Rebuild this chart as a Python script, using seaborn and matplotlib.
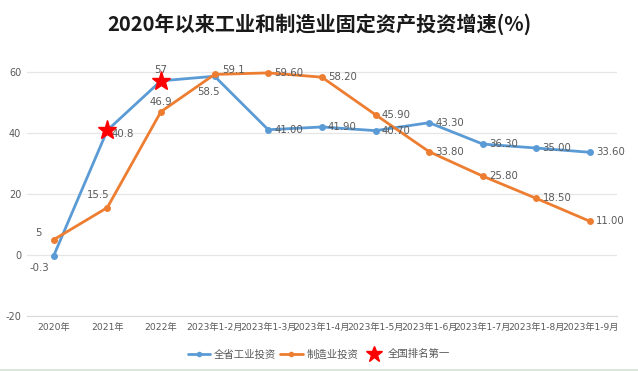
import matplotlib
matplotlib.use("Agg")
import matplotlib.pyplot as plt
from matplotlib.lines import Line2D
import seaborn as sns
import numpy as np
import pandas as pd

categories = ["2020年", "2021年", "2022年", "2023年1-2月", "2023年1-3月", "2023年1-4月",
              "2023年1-5月", "2023年1-6月", "2023年1-7月", "2023年1-8月", "2023年1-9月"]
industry = [-0.3, 40.8, 57, 58.5, 41.0, 41.9, 40.7, 43.3, 36.3, 35.0, 33.6]
manufacturing = [5, 15.5, 46.9, 59.1, 59.6, 58.2, 45.9, 33.8, 25.8, 18.5, 11.0]
industry_labels = ["-0.3", "40.8", "57", "58.5", "41.00", "41.90", "40.70", "43.30", "36.30", "35.00", "33.60"]
manufacturing_labels = ["5", "15.5", "46.9", "59.1", "59.60", "58.20", "45.90", "33.80", "25.80", "18.50", "11.00"]
star_idx = [1, 2]

sns.set_style("white")
plt.rcParams["font.family"] = ["DejaVu Sans", "Noto Sans CJK SC"]
plt.rcParams["axes.unicode_minus"] = False

blue = "#5B9BD5"
orange = "#ED7D31"
gray = "#595959"

df = pd.DataFrame({"x": np.arange(len(categories)), "industry": industry, "manufacturing": manufacturing})

fig = plt.figure(figsize=(6.38, 3.71), dpi=100)
ax = fig.add_axes([0.042, 0.148, 0.925, 0.70])

sns.lineplot(data=df, x="x", y="industry", color=blue, lw=2, marker="o", markersize=5,
             markeredgewidth=0, ax=ax, label="全省工业投资")
sns.lineplot(data=df, x="x", y="manufacturing", color=orange, lw=2, marker="o", markersize=5,
             markeredgewidth=0, ax=ax, label="制造业投资")
ax.plot(df["x"][star_idx], np.array(industry)[star_idx], ls="none", marker="*",
        color="red", markersize=14, zorder=5)

# data labels: offsets in pixels
ind_off = [(-4, -12, "right"), (4, -4, "left"), (0, 11, "center"), (-6, -16, "center")] + \
          [(6, 0, "left")] * 7
man_off = [(-12, 7, "right"), (-9, 13, "center"), (0, 10, "center"), (8, 4, "left")] + \
          [(6, 0, "left")] * 7
for i in range(len(categories)):
    dx, dy, ha = ind_off[i]
    ax.annotate(industry_labels[i], (i, industry[i]), xytext=(dx, dy), textcoords="offset pixels",
                ha=ha, va="center", fontsize=7.3, color=gray)
    dx, dy, ha = man_off[i]
    ax.annotate(manufacturing_labels[i], (i, manufacturing[i]), xytext=(dx, dy), textcoords="offset pixels",
                ha=ha, va="center", fontsize=7.3, color=gray)

ax.set_xlim(-0.5, len(categories) - 0.5)
ax.set_ylim(-20, 65)
ax.set_yticks([-20, 0, 20, 40, 60])
ax.set_xticks(df["x"])
ax.set_xticklabels(categories)
ax.set_xticks(np.arange(-0.5, len(categories), 1), minor=True)
ax.tick_params(axis="x", which="major", length=0, labelsize=6.6, labelcolor=gray, pad=5)
ax.tick_params(axis="x", which="minor", length=4, color="#D9D9D9", width=0.8)
ax.tick_params(axis="y", length=0, labelsize=7, labelcolor=gray, pad=4)
ax.set_xlabel("")
ax.set_ylabel("")
ax.grid(axis="y", color="#E6E6E6", lw=0.9)
for s in ["top", "right", "left"]:
    ax.spines[s].set_visible(False)
ax.spines["bottom"].set_color("#D9D9D9")

ax.get_legend().remove()
handles = [
    Line2D([], [], color=blue, lw=2, marker="o", markersize=4, markeredgewidth=0),
    Line2D([], [], color=orange, lw=2, marker="o", markersize=4, markeredgewidth=0),
    Line2D([], [], ls="none", marker="*", color="red", markersize=12),
]
fig.legend(handles, ["全省工业投资", "制造业投资", "全国排名第一"], loc="center",
           bbox_to_anchor=(0.5, 0.045), ncol=3, frameon=False,
           labelcolor=gray, handlelength=2.2, handletextpad=0.3, columnspacing=0.4,
           prop={"family": ["Noto Sans CJK SC"], "size": 7.5})

fig.text(0.5, 0.935, "2020年以来工业和制造业固定资产投资增速(%)", ha="center", va="center",
         fontsize=14.5, fontweight="bold", family=["Noto Sans CJK SC", "DejaVu Sans"], color="#1a1a1a")

# thin light-green frame line along the bottom edge
fig.add_artist(Line2D([0, 1], [0.004, 0.004], transform=fig.transFigure, color="#D5E3D5", lw=1.2))

fig.savefig("out.png", dpi=100)
